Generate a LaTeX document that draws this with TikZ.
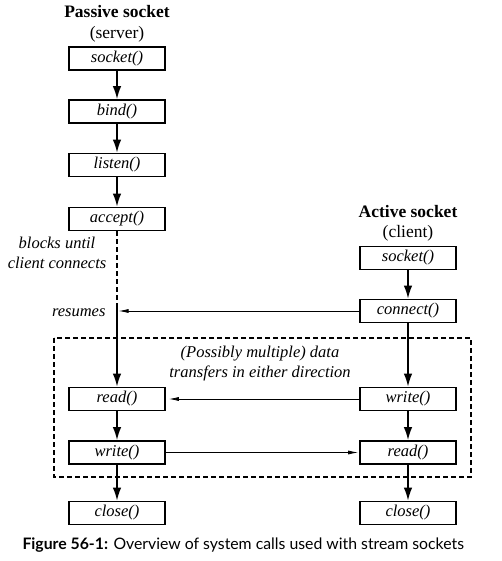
\documentclass[tikz,border=0pt]{standalone}
\usepackage{fontspec}
\setmainfont{Liberation Serif}
\newfontfamily\capfont{Lato}
\usepackage{tikz}
\usetikzlibrary{arrows.meta,calc,positioning}
\tikzset{%
	callbox/.style = {draw, line width=1.6pt, rectangle, minimum width=96pt, minimum height=23pt, inner sep=0pt, text centered, font=\itshape\fontsize{16.5}{18}\selectfont},
	head/.style    = {align=center, font=\fontsize{17.5}{21}\selectfont},
	note/.style    = {align=center, font=\itshape\fontsize{16.5}{20}\selectfont},
	flow/.style    = {line width=1.7pt, -{Latex[length=13pt,width=8.5pt]}},
	msg/.style     = {line width=0.8pt, -{Latex[length=10pt,width=4pt]}},
	wait/.style    = {line width=1.6pt, dash pattern=on 5pt off 3pt},
}
\begin{document}
\begin{tikzpicture}[x=1pt,y=-1pt]
	\useasboundingbox (0,0) rectangle (501,561);
	
	% server side
	\node[head] (stitle) at (117,12) {\textbf{Passive socket}};
	\node[head] (ssub) at (117,34) {(server)};
	\node[callbox] (ssocket) at (117,58.5) {socket()};
	\node[callbox] (sbind)   at (117,111.5) {bind()};
	\node[callbox] (slisten) at (117,165) {listen()};
	\node[callbox] (saccept) at (117,219) {accept()};
	\node[callbox] (sread)   at (117,399) {read()};
	\node[callbox] (swrite)  at (117,452.5) {write()};
	\node[callbox] (sclose)  at (117,513) {close()};
	
	% client side
	\node[head] (ctitle) at (408,212) {\textbf{Active socket}};
	\node[head] (csub) at (408,233) {(client)};
	\node[callbox] (csocket)  at (408,258) {socket()};
	\node[callbox] (cconnect) at (408,311) {connect()};
	\node[callbox] (cwrite)   at (408,399) {write()};
	\node[callbox] (cread)    at (408,452.5) {read()};
	\node[callbox] (cclose)   at (408,513) {close()};
	
	\draw[flow] (ssocket) -- (sbind);
	\draw[flow] (sbind) -- (slisten);
	\draw[flow] (slisten) -- (saccept);
	\draw[flow] (csocket) -- (cconnect);
	
	% accept() blocks until connect()
	\coordinate (resume) at (117,311);
	\draw[wait] (saccept) -- ($(resume)+(0,-4)$);
	\draw[flow] ($(resume)+(0,-4)$) -- (sread);
	\draw[msg,shorten >=1.5pt] (cconnect) -- (resume);
	\node[note] (blocks) at (57,253) {blocks until\\client connects};
	\node[note,anchor=east] (resumes) at (109,313) {resumes};
	
	% data transfers
	\draw[wait] (54,338) rectangle (471,477);
	\node[note] (transfers) at (260,364) {(Possibly multiple) data\\transfers in either direction};
	\draw[flow] (cconnect) -- (cwrite);
	\draw[flow] (sread) -- (swrite);
	\draw[flow] (cwrite) -- (cread);
	\draw[flow] (swrite) -- (sclose);
	\draw[flow] (cread) -- (cclose);
	\draw[msg,shorten >=3pt] (cwrite) -- (sread);
	\draw[msg,shorten >=1pt] (swrite) -- (cread);
	
	\node[anchor=west,font=\capfont\fontsize{15.8}{18}\selectfont] (caption) at (19,545) {\textbf{Figure 56-1:} Overview of system calls used with stream sockets};
\end{tikzpicture}
\end{document}
